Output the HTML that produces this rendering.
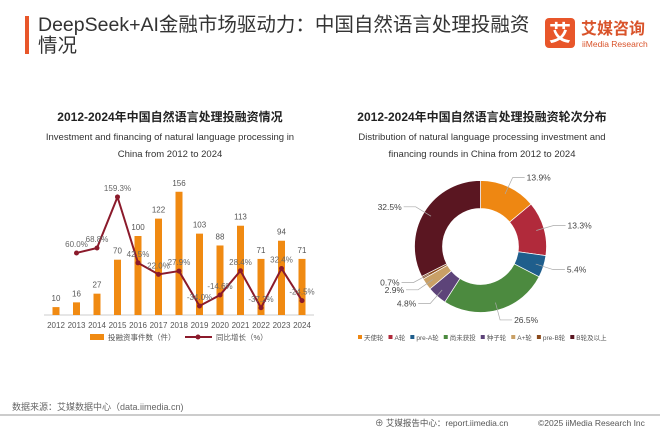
<!DOCTYPE html>
<html><head><meta charset="utf-8">
<style>
html,body{margin:0;padding:0;background:#fff;}
body{width:660px;height:430px;overflow:hidden;font-family:"Liberation Sans","Noto Sans CJK SC",sans-serif;}
svg text{font-family:"Liberation Sans","Noto Sans CJK SC",sans-serif;}
</style></head>
<body>
<svg width="660" height="430" viewBox="0 0 660 430" xmlns="http://www.w3.org/2000/svg">
<rect x="25" y="16" width="4" height="38" fill="#e8562a"/>
<text x="38" y="31" font-size="19.5" fill="#333">DeepSeek+AI金融市场驱动力：中国自然语言处理投融资</text>
<text x="38" y="52" font-size="19.5" fill="#333">情况</text>
<g>
<rect x="545" y="18" width="30" height="30" rx="4" fill="#e8562a"/>
<text x="560" y="41" font-size="22" fill="#fff" text-anchor="middle" font-weight="bold">艾</text>
<text x="581" y="34" font-size="16" fill="#d9532a" font-weight="bold">艾媒咨询</text>
<text x="582" y="47" font-size="8.5" fill="#d9532a">iiMedia Research</text>
</g>
<text x="170" y="121" font-size="12" font-weight="bold" fill="#222" text-anchor="middle">2012-2024年中国自然语言处理投融资情况</text>
<text x="170" y="140" font-size="9.5" fill="#333" text-anchor="middle">Investment and financing of natural language processing in</text>
<text x="170" y="157" font-size="9.5" fill="#333" text-anchor="middle">China from 2012 to 2024</text>
<text x="482" y="121" font-size="12" font-weight="bold" fill="#222" text-anchor="middle">2012-2024年中国自然语言处理投融资轮次分布</text>
<text x="482" y="140" font-size="9.5" fill="#333" text-anchor="middle">Distribution of natural language processing investment and</text>
<text x="482" y="157" font-size="9.5" fill="#333" text-anchor="middle">financing rounds in China from 2012 to 2024</text>
<g id="bars"></g>
<g id="donut"></g>
<text x="12" y="410" font-size="9" fill="#666">数据来源：艾媒数据中心（data.iimedia.cn)</text>
<line x1="0" y1="415" x2="660" y2="415" stroke="#999" stroke-width="1"/>
<text x="375" y="426" font-size="8.5" fill="#555">⊕ 艾媒报告中心：report.iimedia.cn</text>
<text x="538" y="426" font-size="8.5" fill="#555">©2025 iiMedia Research Inc</text>
</svg>
<script>
const years=['2012','2013','2014','2015','2016','2017','2018','2019','2020','2021','2022','2023','2024'];
const counts=[10,16,27,70,100,122,156,103,88,113,71,94,71];
const growth=[null,60.0,68.8,159.3,42.5,22.0,27.9,-34.0,-14.6,28.4,-37.2,32.4,-24.5];
const roundNames=['天使轮','A轮','pre-A轮','尚未获投','种子轮','A+轮','pre-B轮','B轮及以上'];
const roundShares=[13.9,13.3,5.4,26.5,4.8,2.9,0.7,32.5];
const roundColors=['#ee8712','#b12a3b','#1f5e8c','#4c8a3f','#5d4479','#c9a066','#8b4a1c','#5a1621'];
const NS='http://www.w3.org/2000/svg';
function mk(tag,attrs,parent,txt){const e=document.createElementNS(NS,tag);for(const k in attrs)e.setAttribute(k,attrs[k]);if(txt!==undefined)e.textContent=txt;parent.appendChild(e);return e;}
const bg=document.getElementById('bars');
const x0=56,dx=20.5,base=315;
const xs=i=>x0+i*dx;
const yBar=v=>base-v*0.79;
const yLine=v=>286.8-v*0.564;
const ax=mk('line',{x1:44,y1:base,x2:314,y2:base,stroke:'#ccc'},bg);


counts.forEach((v,i)=>{
 const r=mk('rect',{x:xs(i)-3.5,y:yBar(v),width:7,height:base-yBar(v),fill:'#f08a12'},bg);
 
 
 const t=mk('text',{x:xs(i),y:yBar(v)-6,'font-size':8,fill:'#555','text-anchor':'middle'},bg,String(v));
 
 
 const yl=mk('text',{x:xs(i),y:base+13,'font-size':8,fill:'#555','text-anchor':'middle'},bg,years[i]);
 
 
});
let pts=[];growth.forEach((g,i)=>{if(g!==null)pts.push(xs(i)+','+yLine(g));});
const pl=mk('polyline',{points:pts.join(' '),fill:'none',stroke:'#8b1a2b','stroke-width':2},bg);


growth.forEach((g,i)=>{if(g===null)return;
 const c=mk('circle',{cx:xs(i),cy:yLine(g),r:2.5,fill:'#8b1a2b'},bg);
 
 
 const t=mk('text',{x:xs(i),y:yLine(g)-6,'font-size':8,fill:'#666','text-anchor':'middle'},bg,g.toFixed(1)+'%');
 
 
});
const lg1=mk('g',{},bg);


mk('rect',{x:90,y:334,width:14,height:6,fill:'#f08a12'},lg1);
mk('text',{x:108,y:340,'font-size':7.5,fill:'#555'},lg1,'投融资事件数（件）');
mk('line',{x1:185,y1:337,x2:212,y2:337,stroke:'#8b1a2b','stroke-width':2},lg1);
mk('circle',{cx:198,cy:337,r:2.5,fill:'#8b1a2b'},lg1);
mk('text',{x:216,y:340,'font-size':7.5,fill:'#555'},lg1,'同比增长（%）');
// donut
const dg=document.getElementById('donut');
const cx=480.5,cy=246.5,R=66,r0=38;
const total=roundShares.reduce((a,b)=>a+b,0);
let acc=0;
function P(a,rr){return [cx+rr*Math.sin(a),cy-rr*Math.cos(a)];}
roundShares.forEach((v,i)=>{
 const a0=acc/total*2*Math.PI;acc+=v;const a1=acc/total*2*Math.PI;
 const lf=(a1-a0)>Math.PI?1:0;
 const p1=P(a0,R),p2=P(a1,R),p3=P(a1,r0),p4=P(a0,r0);
 const d=`M${p1} A${R},${R} 0 ${lf} 1 ${p2} L${p3} A${r0},${r0} 0 ${lf} 0 ${p4} Z`;
 const s=mk('path',{d:d,fill:roundColors[i],stroke:'#fff','stroke-width':0.7},dg);
 
 
 const am=(a0+a1)/2;
 const pi=P(am,R-8);const po=P(am,R+10);
 const right=Math.sin(am)>=0;
 const ex=po[0]+(right?12:-12);
 const ln=mk('polyline',{points:`${pi} ${po} ${ex},${po[1]}`,fill:'none',stroke:'#aaa','stroke-width':0.7},dg);
 
 
 const t=mk('text',{x:ex+(right?2:-2),y:po[1]+3,'font-size':8.5,fill:'#444','text-anchor':right?'start':'end'},dg,v.toFixed(1)+'%');
 
 
});
const lg2=mk('g',{},dg);


let lx=358;
roundNames.forEach((n,i)=>{
 mk('rect',{x:lx,y:335,width:4,height:4,fill:roundColors[i]},lg2);
 const t=mk('text',{x:lx+6,y:340,'font-size':6.5,fill:'#555'},lg2,n);
 let w=n.length*5;try{w=t.getComputedTextLength();}catch(e){}
 lx+=6+w+5;
});
</script>
</body></html>
